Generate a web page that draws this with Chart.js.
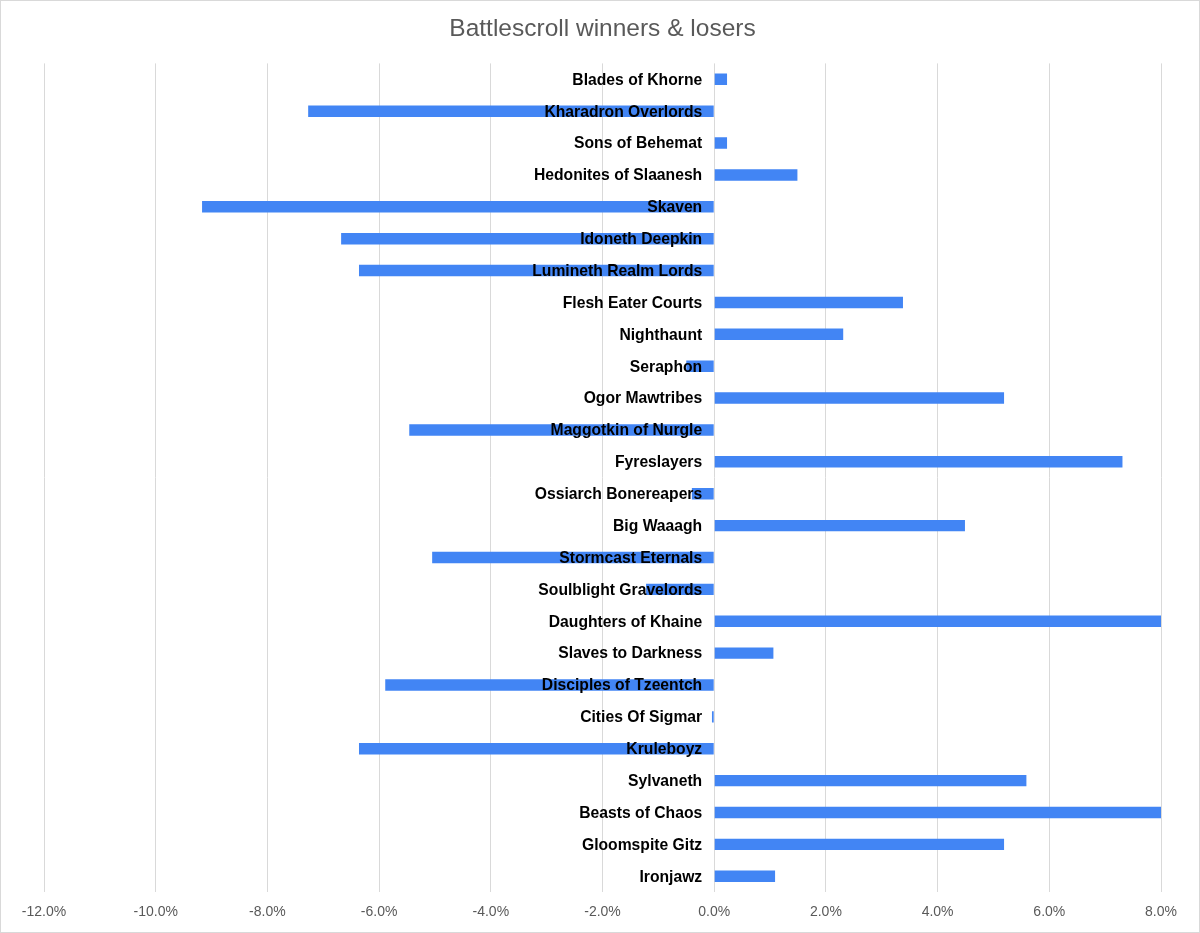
<!DOCTYPE html>
<html>
<head>
<meta charset="utf-8">
<script src="https://cdn.jsdelivr.net/npm/chart.js@4/dist/chart.umd.min.js"></script>
<style>
  html, body { margin: 0; padding: 0; background: #fff; }
  #wrap { position: relative; width: 1200px; height: 933px; }
  #frame { position: absolute; left: 0; top: 0; width: 1200px; height: 933px; box-sizing: border-box; border: 1px solid #d9d9d9; pointer-events: none; }
</style>
</head>
<body>
<div id="wrap">
  <canvas id="c" width="1200" height="933"></canvas>
  <div id="frame"></div>
</div>
<script>
const chartTitle = "Battlescroll winners & losers";
const factions = [
  "Blades of Khorne", "Kharadron Overlords", "Sons of Behemat", "Hedonites of Slaanesh",
  "Skaven", "Idoneth Deepkin", "Lumineth Realm Lords", "Flesh Eater Courts",
  "Nighthaunt", "Seraphon", "Ogor Mawtribes", "Maggotkin of Nurgle",
  "Fyreslayers", "Ossiarch Bonereapers", "Big Waaagh", "Stormcast Eternals",
  "Soulblight Gravelords", "Daughters of Khaine", "Slaves to Darkness", "Disciples of Tzeentch",
  "Cities Of Sigmar", "Kruleboyz", "Sylvaneth", "Beasts of Chaos",
  "Gloomspite Gitz", "Ironjawz"
];
// change in win rate, percent
const changePct = [
  0.23, -7.27, 0.23, 1.49,
  -9.17, -6.68, -6.36, 3.38,
  2.31, -0.50, 5.19, -5.46,
  7.31, -0.40, 4.49, -5.05,
  -1.22, 8.40, 1.06, -5.89,
  -0.04, -6.36, 5.59, 8.30,
  5.19, 1.09
];
const xMin = -12, xMax = 8, xStep = 2;

const labelPlugin = {
  id: 'innerLabels',
  afterDatasetsDraw(chart) {
    const ctx = chart.ctx;
    const xs = chart.scales.x, ys = chart.scales.y;
    const x0 = xs.getPixelForValue(0) - 12;
    ctx.save();
    ctx.font = 'bold 15.7px "Liberation Sans", Arial, sans-serif';
    ctx.fillStyle = '#000';
    ctx.textAlign = 'right';
    ctx.textBaseline = 'middle';
    factions.forEach((name, i) => {
      ctx.fillText(name, x0, ys.getPixelForValue(i) + 1);
    });
    ctx.restore();
  }
};

new Chart(document.getElementById('c'), {
  type: 'bar',
  data: {
    labels: factions,
    datasets: [{
      data: changePct,
      backgroundColor: '#4285f4',
      borderWidth: 0,
      barPercentage: 0.36,
      categoryPercentage: 1.0
    }]
  },
  plugins: [labelPlugin],
  options: {
    indexAxis: 'y',
    responsive: false,
    animation: false,
    devicePixelRatio: 1,
    layout: { padding: { left: 44, right: 39, top: 0, bottom: 0 } },
    plugins: {
      legend: { display: false },
      tooltip: { enabled: false },
      title: {
        display: true,
        text: chartTitle,
        color: '#595959',
        font: { family: '"Liberation Sans", Arial, sans-serif', size: 24.5, weight: 'normal', lineHeight: 1.2 },
        padding: { top: 15, bottom: 19 }
      }
    },
    scales: {
      x: {
        type: 'linear',
        min: xMin, max: xMax,
        border: { display: false },
        grid: { color: '#d9d9d9', lineWidth: 1, drawTicks: false },
        ticks: {
          stepSize: xStep,
          padding: 12,
          color: '#595959',
          font: { family: '"Liberation Sans", Arial, sans-serif', size: 14 },
          callback: v => v.toFixed(1) + '%'
        }
      },
      y: {
        display: false,
        offset: true
      }
    }
  }
});
</script>
</body>
</html>
